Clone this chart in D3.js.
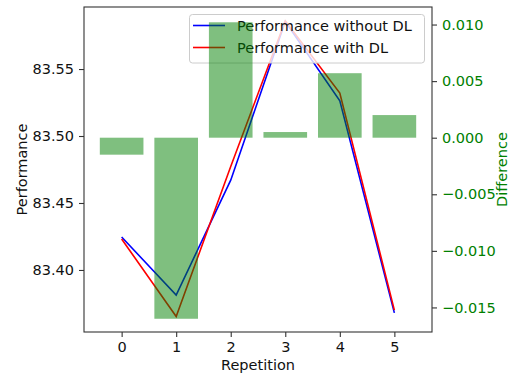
<!DOCTYPE html>
<html><head><meta charset="utf-8">
<script src="https://cdn.jsdelivr.net/npm/d3@7"></script>
<style>body{margin:0;background:#fff}svg{display:block}text{font-family:"DejaVu Sans",sans-serif}</style>
</head><body>
<script>
const repetitions = [0, 1, 2, 3, 4, 5];
const perfWithoutDL = [83.4246, 83.3813, 83.4670, 83.5855, 83.5263, 83.3680];
const perfWithDL = [83.4231, 83.3653, 83.4772, 83.5860, 83.5320, 83.3700];
const difference = [-0.0015, -0.0160, 0.0102, 0.0005, 0.0057, 0.0020];
const leftTicks = [83.40, 83.45, 83.50, 83.55];
const rightTicks = [-0.015, -0.010, -0.005, 0.000, 0.005, 0.010];
const xTicks = [0, 1, 2, 3, 4, 5];
const legendLabels = ["Performance without DL", "Performance with DL"];

const W = 511, H = 376;
const L = 84, R = 432, T = 7, B = 332;
const svg = d3.select("body").append("svg").attr("width", W).attr("height", H);

const x = d3.scaleLinear().domain([-0.69, 5.69]).range([L, R]);
const y1 = d3.scaleLinear().domain([83.3537, 83.5963]).range([B, T]);
const y2 = d3.scaleLinear().domain([-0.01717, 0.01155]).range([B, T]);

const fs = 14.5;
// lines
const line = d3.line().x((d, i) => x(repetitions[i])).y(d => y1(d));
svg.append("path").datum(perfWithoutDL).attr("d", line).attr("fill", "none").attr("stroke", "#0000ff").attr("stroke-width", 1.6);
svg.append("path").datum(perfWithDL).attr("d", line).attr("fill", "none").attr("stroke", "#ff0000").attr("stroke-width", 1.6);

// legend
const lg = svg.append("g");
lg.append("rect").attr("x", 189.5).attr("y", 14.5).attr("width", 235).attr("height", 48.5).attr("rx", 3)
  .attr("fill", "#fff").attr("fill-opacity", 0.8).attr("stroke", "#ccc").attr("stroke-width", 1);
const legColors = ["#0000ff", "#ff0000"];
legendLabels.forEach((t, i) => {
  const yy = 25.5 + i * 22;
  lg.append("line").attr("x1", 193).attr("x2", 225).attr("y1", yy).attr("y2", yy).attr("stroke", legColors[i]).attr("stroke-width", 1.6);
  lg.append("text").attr("x", 237).attr("y", yy).attr("dy", "0.36em").attr("font-size", fs).attr("fill", "#111").text(t);
});

// bars (twin axis on top)
const bw = x(0.4) - x(-0.4);
svg.append("g").selectAll("rect").data(difference).join("rect")
  .attr("x", (d, i) => x(repetitions[i]) - bw / 2)
  .attr("width", bw)
  .attr("y", d => Math.min(y2(d), y2(0)))
  .attr("height", d => Math.abs(y2(d) - y2(0)))
  .attr("fill", "#008000").attr("fill-opacity", 0.5);

// frame
svg.append("rect").attr("x", L).attr("y", T).attr("width", R - L).attr("height", B - T)
  .attr("fill", "none").attr("stroke", "#333").attr("stroke-width", 1.1);

// axes
const ax1 = svg.append("g").attr("transform", `translate(${L},0)`)
  .call(d3.axisLeft(y1).tickValues(leftTicks).tickFormat(d3.format(".2f")).tickSize(5).tickPadding(5));
const ax2 = svg.append("g").attr("transform", `translate(${R},0)`)
  .call(d3.axisRight(y2).tickValues(rightTicks).tickFormat(d => d3.format(".3f")(d).replace("-", "\u2212")).tickSize(5).tickPadding(5));
const axx = svg.append("g").attr("transform", `translate(0,${B})`)
  .call(d3.axisBottom(x).tickValues(xTicks).tickFormat(d3.format("d")).tickSize(5).tickPadding(5));
[ax1, ax2, axx].forEach(a => {
  a.select(".domain").remove();
  a.selectAll("line").attr("stroke", "#333").attr("stroke-width", 1.1);
  a.selectAll("text").attr("font-size", fs).attr("font-family", "DejaVu Sans").attr("fill", "#111");
});
ax2.selectAll("text").attr("fill", "#008000");

// labels
svg.append("text").attr("x", (L + R) / 2).attr("y", 369.5).attr("text-anchor", "middle").attr("font-size", fs).attr("fill", "#111").text("Repetition");
svg.append("text").attr("transform", `translate(26.5,${(T + B) / 2}) rotate(-90)`).attr("text-anchor", "middle").attr("font-size", fs).attr("fill", "#111").text("Performance");
svg.append("text").attr("transform", `translate(507,${(T + B) / 2}) rotate(-90)`).attr("text-anchor", "middle").attr("font-size", fs).attr("fill", "#008000").text("Difference");
</script>
</body></html>
